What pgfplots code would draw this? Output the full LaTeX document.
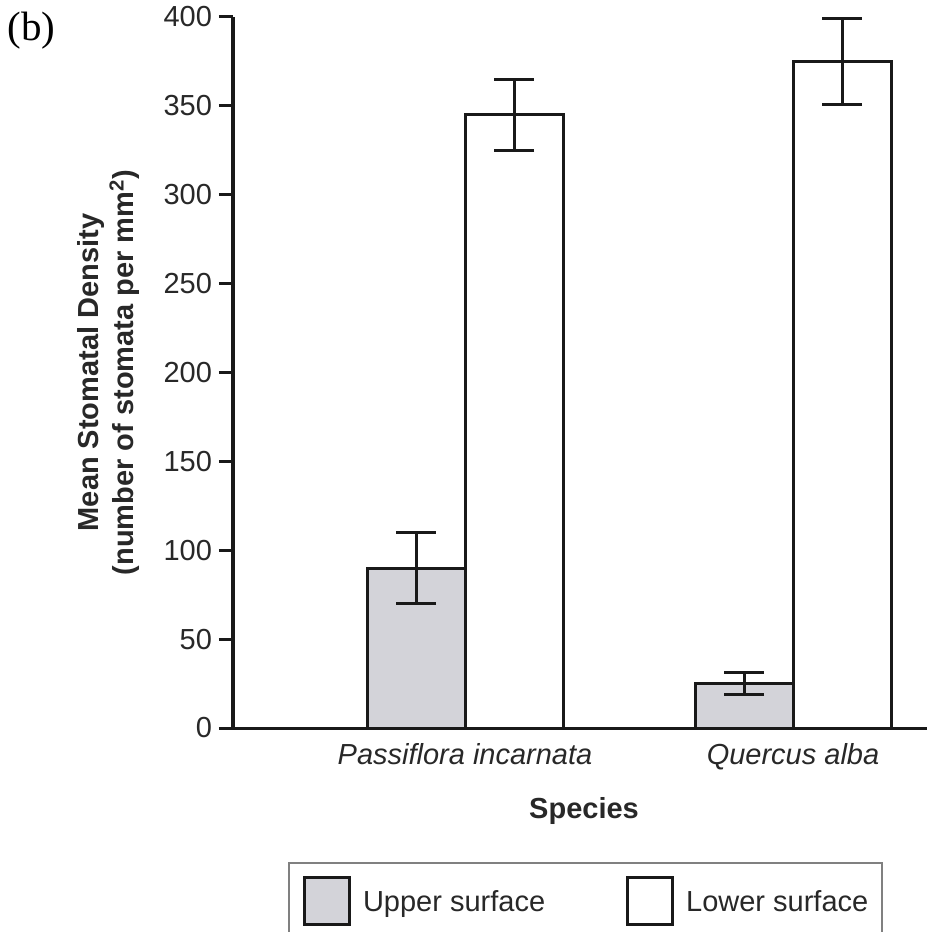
\documentclass[border=0pt]{standalone}
\usepackage{fontspec}
\setmainfont{Liberation Sans}
\newfontfamily\timesfont{Liberation Serif}
\usepackage{pgfplots}
\pgfplotsset{compat=1.18}
\definecolor{barfill}{RGB}{211,211,217}
\definecolor{txt}{RGB}{40,40,40}
\definecolor{axcol}{RGB}{25,25,25}
\begin{document}
\begin{tikzpicture}
\path[use as bounding box] (0,0) rectangle (463.5pt,466pt);
\node[anchor=base west, inner sep=0pt, font=\timesfont\fontsize{20.5}{24}\selectfont] at (3.5pt,445.5pt) {(b)};
\begin{axis}[
  at={(116.5pt,102pt)}, anchor=south west,
  scale only axis, width=347pt, height=355.5pt,
  xmin=-0.7073, xmax=1.4085, ymin=0, ymax=400,
  axis x line=bottom, axis y line=left,
  axis line style={-, line width=1.5pt, draw=axcol},
  ybar=0pt, bar width=49pt,
  xtick={0,1},
  xticklabels={\itshape Passiflora incarnata, \itshape Quercus alba},
  x tick style={draw=none},
  xticklabel style={yshift=3pt},
  ytick={0,50,...,400},
  tick align=outside,
  y tick style={line width=1.5pt, draw=axcol},
  major tick length=7pt,
  tick label style={font=\fontsize{14.5}{17}\selectfont, text=txt},
  /pgf/number format/assume math mode=true,
  xlabel={Species},
  xlabel style={font=\fontsize{14.5}{17}\selectfont\bfseries, text=txt,
    at={(axis description cs:0.5058,-0.1266)}, anchor=base},
  ylabel={Mean Stomatal Density\\(number of stomata per mm\textsuperscript{2})},
  ylabel style={align=center, font=\fontsize{14.5}{17.5}\selectfont\bfseries, text=txt,
    at={(axis description cs:-0.1787,0.5)}, anchor=center},
  legend columns=2,
  legend style={at={(axis description cs:0.0793,-0.1885)}, anchor=north west,
    draw=gray, line width=1pt, inner xsep=7pt, inner ysep=6.5pt,
    font=\fontsize{14.5}{17}\selectfont, text=txt,
    nodes={inner sep=0pt, text depth=0pt},
    cells={anchor=center},
    /tikz/every even column/.append style={column sep=40.5pt}},
  legend image code/.code={%
    \draw[#1, line width=1.5pt, draw=axcol] (0pt,-11.75pt) rectangle (22.5pt,11.75pt);
    \path (28.5pt,0pt);},
  error bars/y dir=both, error bars/y explicit,
  error bars/error bar style={line width=1.5pt, draw=axcol},
  error bars/error mark options={rotate=90, mark size=10pt, line width=1.5pt, draw=axcol},
]
\addplot[fill=barfill, draw=axcol, line width=1.5pt]
  coordinates {(0,90) +- (0,20) (1,25) +- (0,6)};
\addplot[fill=white, draw=axcol, line width=1.5pt]
  coordinates {(0,345) +- (0,20) (1,375) +- (0,24)};
\legend{Upper surface, Lower surface}
\end{axis}
\end{tikzpicture}
\end{document}
